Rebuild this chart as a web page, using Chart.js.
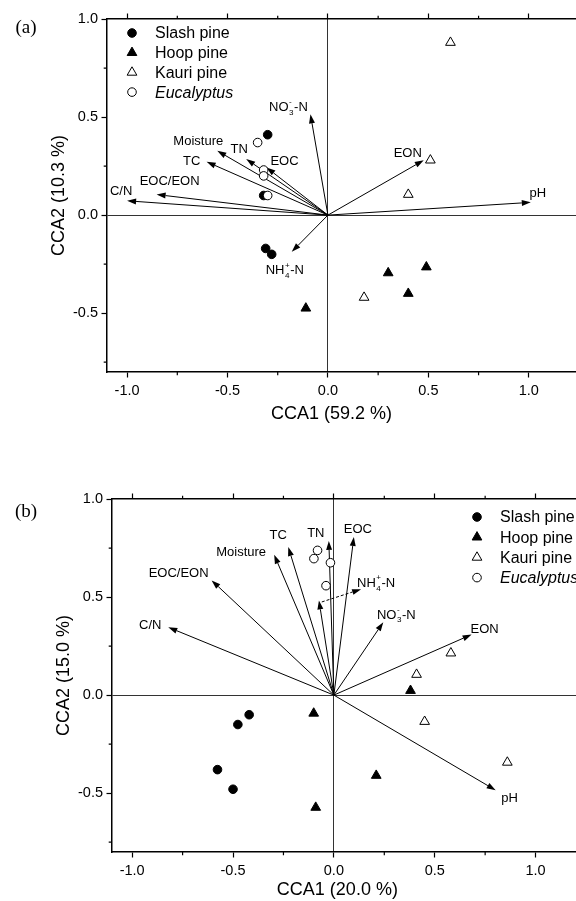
<!DOCTYPE html>
<html>
<head>
<meta charset="utf-8">
<script src="https://cdn.jsdelivr.net/npm/chart.js@4.4.1/dist/chart.umd.min.js"></script>
<style>
  html, body { margin: 0; padding: 0; background: #fff; overflow: hidden; }
  canvas { position: absolute; left: 0; }
  #chartA { top: 0; }
  #chartB { top: 450px; }
</style>
</head>
<body>
<canvas id="chartA" width="600" height="450"></canvas>
<canvas id="chartB" width="600" height="451"></canvas>
<script>
// ---- data ----
const speciesNames = ["Slash pine", "Hoop pine", "Kauri pine", "Eucalyptus"];
const envVars = ["C/N", "EOC/EON", "TC", "Moisture", "TN", "EOC", "NO3-N", "NH4-N", "EON", "pH"];
const majorTicks = [-1.0, -0.5, 0.0, 0.5, 1.0];

// panel (a) site scores
const slashA = [[-0.30, 0.41], [-0.32, 0.10], [-0.31, -0.17], [-0.28, -0.20]];
const hoopA = [[-0.11, -0.475], [0.30, -0.295], [0.40, -0.40], [0.49, -0.265]];
const kauriA = [[0.61, 0.88], [0.51, 0.28], [0.40, 0.105], [0.18, -0.42]];
const eucA = [[-0.35, 0.37], [-0.32, 0.23], [-0.32, 0.20], [-0.30, 0.10]];
// panel (a) environmental arrows (same order as envVars)
const tipsA = [[-1.00, 0.073], [-0.853, 0.105], [-0.604, 0.272], [-0.551, 0.328], [-0.407, 0.286],
               [-0.306, 0.243], [-0.087, 0.514], [-0.18, -0.187], [0.477, 0.28], [1.01, 0.065]];

// panel (b) site scores
const slashB = [[-0.42, -0.10], [-0.476, -0.15], [-0.577, -0.38], [-0.50, -0.48]];
const hoopB = [[0.38, 0.023], [-0.10, -0.093], [0.21, -0.41], [-0.09, -0.573]];
const kauriB = [[0.58, 0.214], [0.41, 0.105], [0.45, -0.135], [0.86, -0.343]];
const eucB = [[-0.081, 0.738], [-0.099, 0.696], [-0.017, 0.675], [-0.039, 0.558]];
const tipsB = [[-0.821, 0.346], [-0.606, 0.585], [-0.226, 0.755], [-0.296, 0.716], [-0.025, 0.786],
               [0.099, 0.806], [0.245, 0.372], [-0.074, 0.483], [0.683, 0.309], [0.802, -0.485]];
const nh4LeaderB = [[-0.06, 0.475], [0.135, 0.54]];

// ---- styling ----
const FONT = "'Liberation Sans', Arial, sans-serif";
const speciesStyle = [
  { pointStyle: "circle", fill: "#000", r: 4.3 },
  { pointStyle: "triangle", fill: "#000", r: 5.6 },
  { pointStyle: "triangle", fill: "#fff", r: 5.6 },
  { pointStyle: "circle", fill: "#fff", r: 4.3 }
];

// label offsets (px) from arrow tip to label centre
const labelOffA = [[-6, -10], [13, -14], [-15, -1], [-19, -10], [-7, -11], [18, -7], [-22, -8], [-7, 18], [-16, -8], [7, -10]];
const labelOffB = [[-18, -3], [-33, -8], [-10, -13], [-33, -3], [-13, -9], [4, -9], [13, -8], null, [13, -6], [14, 7]];

const isMajor = v => majorTicks.some(m => Math.abs(m - v) < 1e-6) || Math.abs(v * 2 - Math.round(v * 2)) < 1e-6;

function marker(ctx, style, x, y) {
  ctx.save();
  ctx.fillStyle = style.fill;
  ctx.strokeStyle = "#000";
  ctx.lineWidth = 1;
  ctx.beginPath();
  if (style.pointStyle === "circle") {
    ctx.arc(x, y, style.r, 0, Math.PI * 2);
  } else {
    for (let k = 0; k < 3; k++) {
      const a = k * 2 * Math.PI / 3;
      const px = x + Math.sin(a) * style.r, py = y - Math.cos(a) * style.r;
      k === 0 ? ctx.moveTo(px, py) : ctx.lineTo(px, py);
    }
    ctx.closePath();
  }
  ctx.fill();
  ctx.stroke();
  ctx.restore();
}

function arrow(ctx, x0, y0, x1, y1, dashed) {
  const ang = Math.atan2(y1 - y0, x1 - x0);
  const L = 9, W = 3;
  const bx = x1 - L * Math.cos(ang), by = y1 - L * Math.sin(ang);
  ctx.setLineDash(dashed ? [3, 2] : []);
  ctx.beginPath();
  ctx.moveTo(x0, y0);
  ctx.lineTo(bx, by);
  ctx.stroke();
  ctx.setLineDash([]);
  ctx.beginPath();
  ctx.moveTo(x1, y1);
  ctx.lineTo(bx + W * Math.sin(ang), by - W * Math.cos(ang));
  ctx.lineTo(bx - W * Math.sin(ang), by + W * Math.cos(ang));
  ctx.closePath();
  ctx.fill();
}

// draws names like NO3-N / NH4-N with stacked sub/superscripts
function label(ctx, name, cx, cy, size) {
  let parts;
  if (name === "NO3-N") parts = [["NO"], ["3", "-"], ["-N"]];
  else if (name === "NH4-N") parts = [["NH"], ["4", "+"], ["-N"]];
  else parts = [[name]];
  const small = size * 0.62;
  const widths = parts.map(p => {
    if (p.length === 1) { ctx.font = size + "px " + FONT; return ctx.measureText(p[0]).width; }
    ctx.font = small + "px " + FONT;
    return Math.max(ctx.measureText(p[0]).width, ctx.measureText(p[1]).width) + 1;
  });
  let x = cx - widths.reduce((a, b) => a + b, 0) / 2;
  const base = cy + size * 0.36;
  ctx.textAlign = "left";
  ctx.textBaseline = "alphabetic";
  parts.forEach((p, i) => {
    if (p.length === 1) {
      ctx.font = size + "px " + FONT;
      ctx.fillText(p[0], x, base);
    } else {
      ctx.font = small + "px " + FONT;
      ctx.fillText(p[0], x + 0.5, base + size * 0.28);
      ctx.fillText(p[1], x + 0.5, base - size * 0.5);
    }
    x += widths[i];
  });
}

const ccaPlugin = {
  id: "cca",
  beforeDatasetsDraw(chart, args, opts) {
    const { ctx, scales: { x, y } } = chart;
    const px = v => x.getPixelForValue(v), py = v => y.getPixelForValue(v);
    ctx.save();
    ctx.strokeStyle = "#000";
    ctx.fillStyle = "#000";
    ctx.lineWidth = 1;
    opts.tips.forEach(t => arrow(ctx, px(0), py(0), px(t[0]), py(t[1]), false));
    if (opts.leader) {
      const [a, b] = opts.leader;
      arrow(ctx, px(a[0]), py(a[1]), px(b[0]), py(b[1]), true);
    }
    opts.tips.forEach((t, i) => {
      let off = opts.offsets[i], ax = px(t[0]), ay = py(t[1]);
      if (!off) { off = opts.leaderOff; ax = px(opts.leader[1][0]); ay = py(opts.leader[1][1]); }
      label(ctx, envVars[i], ax + off[0], ay + off[1], 13);
    });
    ctx.restore();
  },
  afterDraw(chart, args, opts) {
    const { ctx, chartArea, scales: { x, x2, y } } = chart;
    ctx.save();
    // short minor ticks
    ctx.strokeStyle = "#000";
    ctx.lineWidth = 1.2;
    ctx.beginPath();
    x.ticks.forEach(t => {
      if (isMajor(t.value)) return;
      const p = x.getPixelForValue(t.value);
      if (p > chartArea.right - 1) return;
      ctx.moveTo(p, chartArea.bottom); ctx.lineTo(p, chartArea.bottom + 3.3);
      ctx.moveTo(p, chartArea.top); ctx.lineTo(p, chartArea.top - 3.3);
    });
    y.ticks.forEach(t => {
      if (isMajor(t.value)) return;
      const p = y.getPixelForValue(t.value);
      ctx.moveTo(chartArea.left, p); ctx.lineTo(chartArea.left - 3.3, p);
    });
    ctx.stroke();
    ctx.fillStyle = "#000";
    // legend
    const lg = opts.legend;
    speciesNames.forEach((n, i) => {
      const yy = lg.y + i * lg.dy;
      marker(ctx, speciesStyle[i], lg.mx, yy);
      ctx.font = (i === 3 ? "italic " : "") + "16px " + FONT;
      ctx.textAlign = "left";
      ctx.textBaseline = "middle";
      ctx.fillText(n, lg.tx, yy + 1);
    });
    // axis titles
    ctx.font = "18px " + FONT;
    ctx.textAlign = "center";
    ctx.textBaseline = "middle";
    ctx.fillText(opts.xTitle, x.getPixelForValue(0) + 3.5, chartArea.bottom + opts.xTitleGap);
    ctx.save();
    ctx.translate(chartArea.left - 48, (chartArea.top + chartArea.bottom) / 2);
    ctx.rotate(-Math.PI / 2);
    ctx.fillText(opts.yTitle, 0, 0);
    ctx.restore();
    // panel letter
    ctx.font = "19px 'Liberation Serif', 'Times New Roman', serif";
    ctx.fillText(opts.letter, 26, opts.letterY);
    ctx.restore();
  }
};

const zeroLine = c => (c.tick && c.tick.value === 0) ? "#333" : "rgba(0,0,0,0)";
const majorTick = c => (c.tick && isMajor(c.tick.value)) ? "#000" : "rgba(0,0,0,0)";

function axisX(pos, height) {
  return {
    type: "linear", position: pos, min: -1.1, max: 1.25,
    afterFit: s => { s.height = height; },
    border: { display: true, color: "#000", width: 1.5 },
    grid: {
      drawOnChartArea: pos === "bottom",
      color: zeroLine, lineWidth: 1, tickColor: majorTick, tickLength: 5.5, tickWidth: 1.2
    },
    ticks: {
      stepSize: 0.25, includeBounds: false, autoSkip: false, maxRotation: 0, padding: 4.5,
      color: "#000", font: { family: FONT, size: 14.5 },
      callback: v => (pos === "bottom" && isMajor(v)) ? v.toFixed(1) : ""
    }
  };
}

function axisY(width) {
  return {
    type: "linear", position: "left", min: -0.8, max: 1.0,
    afterFit: s => { s.width = width; },
    border: { display: true, color: "#000", width: 1.5 },
    grid: { color: zeroLine, lineWidth: 1, tickColor: majorTick, tickLength: 5.5, tickWidth: 1.2 },
    ticks: {
      stepSize: 0.25, includeBounds: false, autoSkip: false, padding: 3.5,
      color: "#000", font: { family: FONT, size: 14.5 },
      callback: v => isMajor(v) ? v.toFixed(1) : ""
    }
  };
}

function makeChart(id, groups, cca, padding, yWidth, xHeight) {
  const datasets = groups.map((g, i) => ({
    label: speciesNames[i],
    data: g.map(p => ({ x: p[0], y: p[1] })),
    pointStyle: speciesStyle[i].pointStyle,
    pointRadius: speciesStyle[i].r,
    backgroundColor: speciesStyle[i].fill,
    borderColor: "#000",
    borderWidth: 1,
    order: 3 - i
  }));
  return new Chart(document.getElementById(id), {
    type: "scatter",
    data: { datasets },
    options: {
      responsive: false,
      animation: false,
      layout: { padding },
      plugins: { legend: { display: false }, tooltip: { enabled: false }, cca },
      scales: { x: axisX("bottom", xHeight), x2: axisX("top", 6), y: axisY(yWidth) }
    },
    plugins: [ccaPlugin]
  });
}

makeChart("chartA", [slashA, hoopA, kauriA, eucA], {
  tips: tipsA, offsets: labelOffA,
  legend: { mx: 132, tx: 155, y: 33, dy: 19.7 },
  xTitle: "CCA1 (59.2 %)", yTitle: "CCA2 (10.3 %)", xTitleGap: 42,
  letter: "(a)", letterY: 28
}, { top: 13, right: 21, bottom: 0, left: 0 }, 107, 78);

makeChart("chartB", [slashB, hoopB, kauriB, eucB], {
  tips: tipsB, offsets: labelOffB, leader: nh4LeaderB, leaderOff: [15, -7],
  legend: { mx: 477, tx: 500, y: 67, dy: 20.2 },
  xTitle: "CCA1 (20.0 %)", yTitle: "CCA2 (15.0 %)", xTitleGap: 38,
  letter: "(b)", letterY: 62.5
}, { top: 43, right: 14, bottom: 0, left: 0 }, 112, 49);
</script>
</body>
</html>
